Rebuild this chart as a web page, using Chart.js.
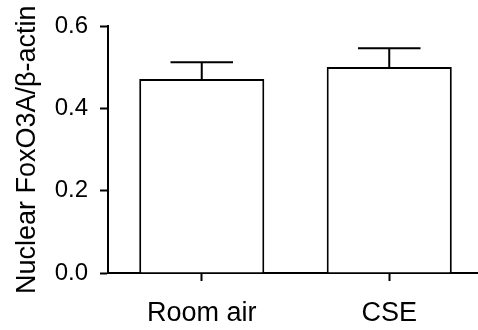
<!DOCTYPE html>
<html>
<head>
<meta charset="utf-8">
<script src="https://cdn.jsdelivr.net/npm/chart.js@4"></script>
<style>
  body { margin: 0; background: #fff; }
</style>
</head>
<body>
<canvas id="chart" width="478" height="330"></canvas>
<script>
const groups = ["Room air", "CSE"];
const means = [0.472, 0.501];
const sems = [0.041, 0.046];
const yTicks = [0, 0.2, 0.4, 0.6];

const FONT = "'Liberation Sans', Arial, Helvetica, sans-serif";

// the x axis in the original runs a little past the right edge
const stretchX = {
    id: "stretchX",
    afterLayout(chart) {
        const x = chart.scales.x;
        x.right = 483;
        x.width = x.right - x.left;
        x.configure();
        chart.chartArea.right = 483;
        chart.chartArea.width = 483 - chart.chartArea.left;
    }
};

// upward-only SEM bars with a cap, like the Prism original
const errorBars = {
    id: "errorBars",
    afterDatasetsDraw(chart) {
        const ctx = chart.ctx;
        const y = chart.scales.y;
        const meta = chart.getDatasetMeta(0);
        ctx.save();
        ctx.strokeStyle = "#000";
        ctx.lineWidth = 2;
        meta.data.forEach((bar, i) => {
            const top = y.getPixelForValue(means[i] + sems[i]);
            const half = bar.width * 0.25;
            ctx.beginPath();
            ctx.moveTo(bar.x, bar.y);
            ctx.lineTo(bar.x, top);
            ctx.moveTo(bar.x - half, top);
            ctx.lineTo(bar.x + half, top);
            ctx.stroke();
        });
        ctx.restore();
    }
};

new Chart(document.getElementById("chart"), {
    type: "bar",
    data: {
        labels: groups,
        datasets: [{
            data: means,
            backgroundColor: "#fff",
            borderColor: "#000",
            borderWidth: 2,
            barPercentage: 0.667,
            categoryPercentage: 1
        }]
    },
    options: {
        responsive: false,
        animation: false,
        layout: { padding: { top: 25, right: 0, left: 0, bottom: 0 } },
        plugins: { legend: { display: false }, tooltip: { enabled: false } },
        scales: {
            x: {
                afterFit: s => { s.height = 57; },
                grid: {
                    offset: false,
                    drawOnChartArea: false,
                    tickLength: 8,
                    tickWidth: 2,
                    tickColor: "#000"
                },
                border: { color: "#000", width: 2 },
                ticks: { color: "#000", padding: 16, font: { family: FONT, size: 27 } }
            },
            y: {
                min: 0,
                max: 0.6,
                afterFit: s => { s.width = 108; },
                afterBuildTicks: s => { s.ticks = yTicks.map(v => ({ value: v })); },
                grid: {
                    drawOnChartArea: false,
                    tickLength: 8,
                    tickWidth: 2,
                    tickColor: "#000"
                },
                border: { color: "#000", width: 2 },
                ticks: {
                    color: "#000",
                    padding: 12,
                    font: { family: FONT, size: 24 },
                    callback: v => v.toFixed(1)
                },
                title: {
                    display: true,
                    text: "Nuclear FoxO3A/β-actin",
                    color: "#000",
                    padding: { top: 11, bottom: 0 },
                    font: { family: FONT, size: 27 }
                }
            }
        }
    },
    plugins: [stretchX, errorBars]
});
</script>
</body>
</html>
